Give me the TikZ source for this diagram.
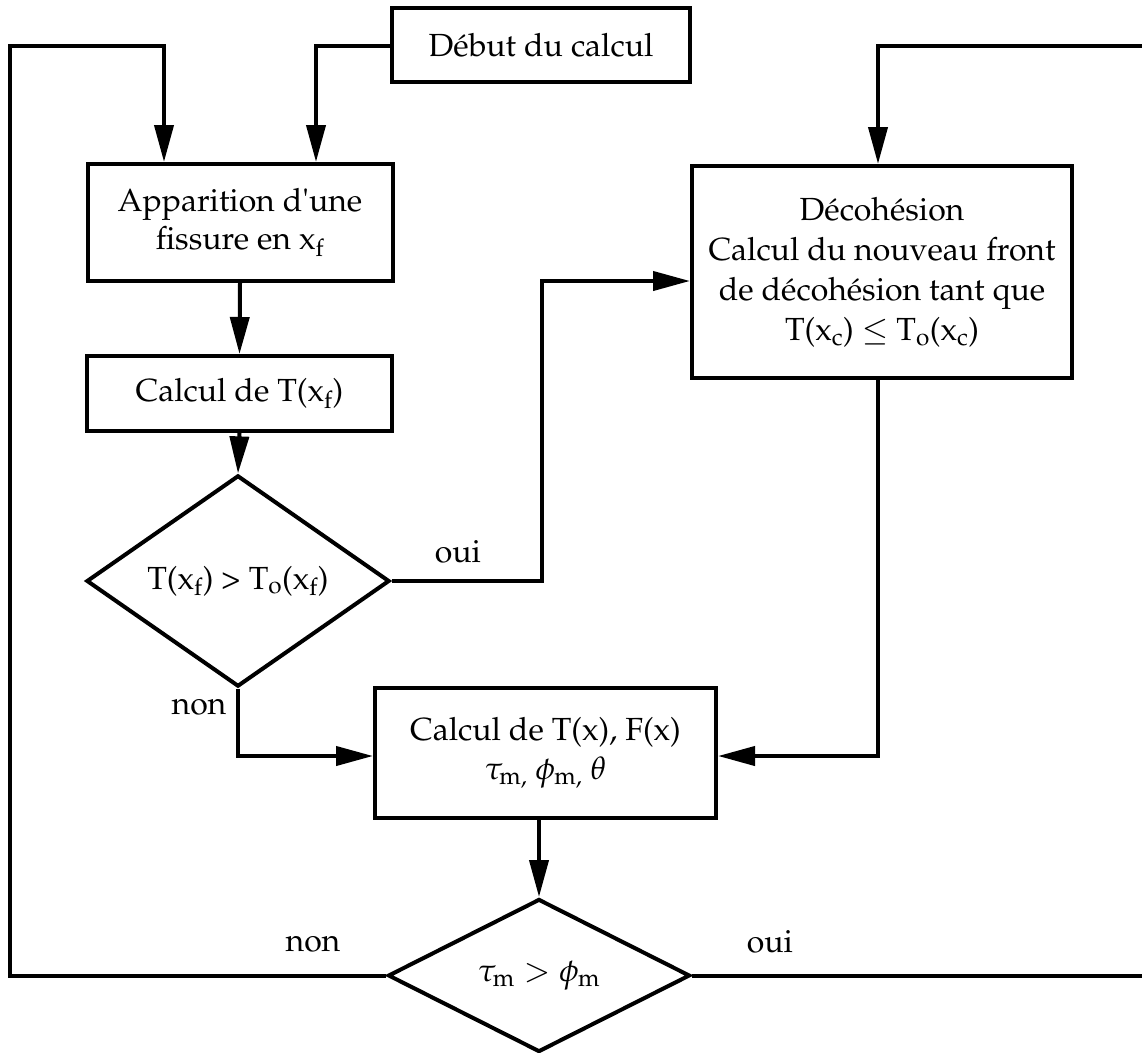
\documentclass[tikz,border=0pt]{standalone}
\usepackage[T1]{fontenc}
\usepackage{mathpazo}
\usetikzlibrary{arrows.meta,shapes.geometric}
\newcommand\lsub[1]{\ensuremath{_{\mathrm{#1}}}}
\begin{document}
\begin{tikzpicture}[x=1pt,y=-1pt,
  txt/.style={font=\fontsize{32}{38.5}\selectfont},
  box/.style={txt,draw,line width=4pt,rectangle,inner sep=0pt,align=center},
  dia/.style={txt,draw,line width=4pt,diamond,inner sep=0pt,align=center},
  lbl/.style={txt,inner sep=0pt,anchor=base},
  arr/.style={line width=4pt,-{Triangle[length=37pt,width=19pt]}}]
\useasboundingbox (0,0) rectangle (1142,1052);

% nodes
\node[box,minimum width=298pt,minimum height=74pt] (debut) at (541,45) {Début du calcul};
\node[box,minimum width=305pt,minimum height=117pt] (appar) at (240,222.5) {Apparition d\textquotesingle une\\fissure en x\lsub{f}};
\node[box,minimum width=305pt,minimum height=75pt] (calcT) at (239.5,393.5) {Calcul de T(x\lsub{f})};
\node[dia,minimum width=303pt,minimum height=150pt] (diam1) at (238,581) {T(x\lsub{f}) > T\lsub{o}(x\lsub{f})};
\node[box,minimum width=380pt,minimum height=212pt,font=\fontsize{32}{40}\selectfont] (decoh) at (882,272) {Décohésion\\Calcul du nouveau front\\de décohésion tant que\\T(x\lsub{c}) $\leq$ T\lsub{o}(x\lsub{c})};
\node[box,minimum width=341pt,minimum height=130pt] (calcX) at (545.5,753) {Calcul de T(x), F(x)\\$\tau_{\mathrm{m},}\ \phi_{\mathrm{m},}\ \theta$};
\node[dia,minimum width=302pt,minimum height=153pt] (diam2) at (539,975.5) {$\tau_{\mathrm{m}} > \phi_{\mathrm{m}}$};

% labels
\node[lbl] (oui1) at (458,562) {oui};
\node[lbl] (non1) at (199,714) {non};
\node[lbl] (non2) at (313,951) {non};
\node[lbl] (oui2) at (770,952) {oui};

% helper coordinates
\coordinate (LX) at (10,0);
\coordinate (TY) at (0,46);
\coordinate (A1) at (164,46);
\coordinate (A2) at (316,46);
\coordinate (J1) at (542,581);
\coordinate (J2) at (542,281);
\coordinate (DX) at (878,0);
\coordinate (NY) at (0,756);
\coordinate (RX) at (1146,0);

% connectors
\draw[arr] (diam2.west) -- (diam2.west -| LX) -- (LX |- TY) -- (A1) -- (A1 |- appar.north);
\draw[arr] (debut.west |- A2) -- (A2) -- (A2 |- appar.north);
\draw[arr] (appar.south) -- (calcT.north);
\draw[arr] (calcT.south) -- (diam1.north);
\draw[arr] (diam1.east) -- (J1) -- (J2) -- (J2 -| decoh.west);
\draw[arr] (diam1.south) -- (diam1.south |- NY) -- (NY -| calcX.west);
\draw[arr] (DX |- decoh.south) -- (DX |- NY) -- (NY -| calcX.east);
\draw[arr] (calcX.south -| diam2.north) -- (diam2.north);
\draw[arr] (diam2.east) -- (diam2.east -| RX) -- (RX |- TY) -- (DX |- TY) -- (DX |- decoh.north);
\end{tikzpicture}
\end{document}
